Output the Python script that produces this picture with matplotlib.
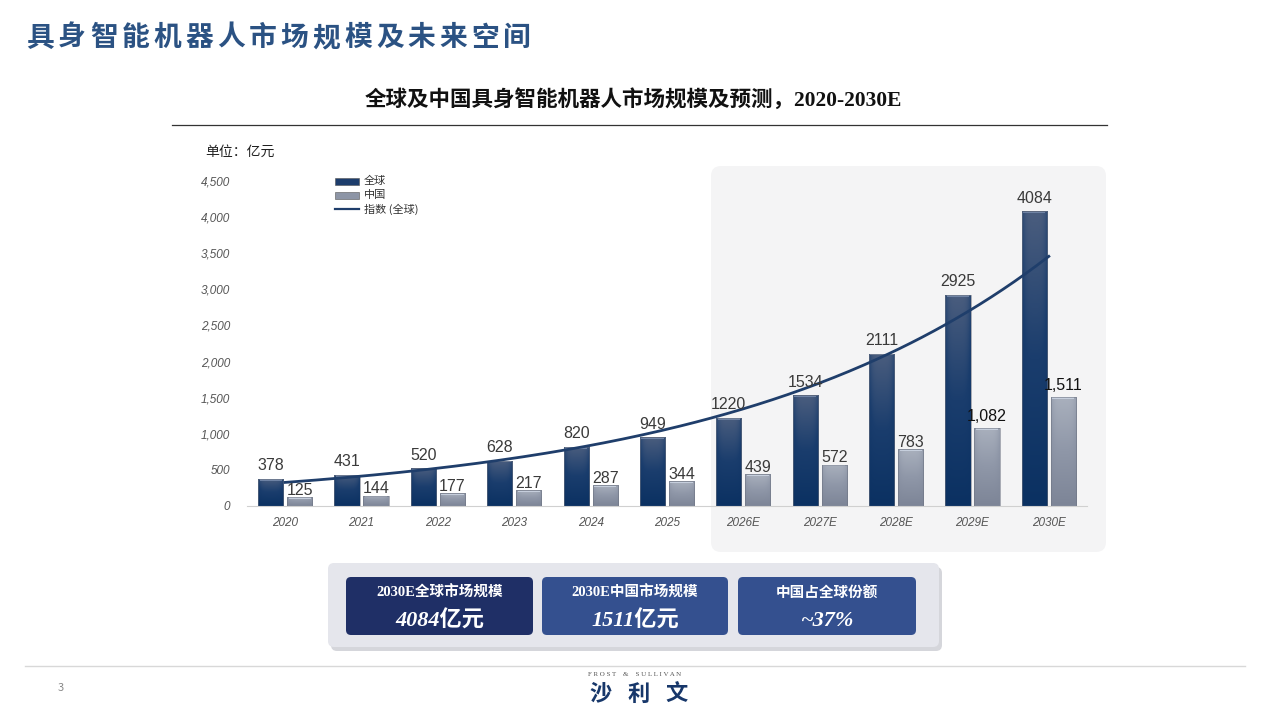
import matplotlib.pyplot as plt
import numpy as np
from matplotlib.patches import FancyBboxPatch, Rectangle
from matplotlib.colors import LinearSegmentedColormap

plt.rcParams['font.family'] = ['Noto Sans CJK SC', 'DejaVu Sans']

years = ["2020", "2021", "2022", "2023", "2024", "2025",
         "2026E", "2027E", "2028E", "2029E", "2030E"]
global_vals = [378, 431, 520, 628, 820, 949, 1220, 1534, 2111, 2925, 4084]
china_vals = [125, 144, 177, 217, 287, 344, 439, 572, 783, 1082, 1511]
yticks = [0, 500, 1000, 1500, 2000, 2500, 3000, 3500, 4000, 4500]
title = "具身智能机器人市场规模及未来空间"

W, H = 1269, 714
fig = plt.figure(figsize=(W / 100, H / 100), dpi=100)
fig.patch.set_facecolor("white")

# background layer in pixel coordinates
bg = fig.add_axes([0, 0, 1, 1], zorder=0)
bg.set_xlim(0, W)
bg.set_ylim(H, 0)
bg.axis("off")

# page title, spaced out character by character
for k, ch in enumerate(title):
    bg.text(40 + k * 31.8, 38, ch, fontsize=20, fontweight="bold",
            color="#2b5283", va="center", ha="center")
bg.text(633, 100, "全球及中国具身智能机器人市场规模及预测，2020-2030E", fontsize=15.5,
        fontweight="bold", color="#111111", va="center", ha="center",
        family=["Liberation Serif", "Noto Sans CJK SC"])
bg.plot([172, 1107], [125, 125], color="#333333", lw=0.9)
bg.text(205, 152, "单位：亿元", fontsize=10, color="#222222", va="center")

# shaded forecast panel
bg.add_patch(FancyBboxPatch((711, 166), 395, 386, boxstyle="round,pad=0,rounding_size=10",
                            fc="#f4f4f5", ec="none"))

# footer
bg.plot([25, 1245], [666, 666], color="#d8d8d8", lw=1)
bg.text(58, 688, "3", fontsize=8, color="#888888", va="center")
bg.text(635, 675, "F R O S T    &    S U L L I V A N", fontsize=5, color="#555555",
        ha="center", va="center", family=["Liberation Serif"])
for k, ch in enumerate("沙利文"):
    bg.text(601 + k * 38, 694, ch, fontsize=16, fontweight="bold", color="#17376a",
            ha="center", va="center")

# main chart
ax = fig.add_axes([247 / W, 1 - 506 / H, 840 / W, 325 / H], zorder=1)
ax.patch.set_alpha(0)
x = np.arange(len(years))
bw = 0.33
off = 0.19

gcmap = LinearSegmentedColormap.from_list("g", ["#0b3162", "#1a3d6d", "#4a5d7e"])
ccmap = LinearSegmentedColormap.from_list("c", ["#7d8597", "#8f97a8", "#a9b0bd"])


def gradient_bars(xs, vals, cmap, cap):
    bars = ax.bar(xs, vals, width=bw, color="none", edgecolor="none", zorder=2)
    vert = np.linspace(0, 1, 100)[:, None]
    horiz = 1 - 0.35 * (np.abs(np.linspace(-1, 1, 30)) ** 4)[None, :]
    img = vert * horiz
    for b in bars:
        bx, by = b.get_x(), b.get_y()
        w, h = b.get_width(), b.get_height()
        im = ax.imshow(img, cmap=cmap, extent=[bx, bx + w, by, by + h],
                       origin="lower", aspect="auto", zorder=2, vmin=0, vmax=1)
        im.set_clip_path(b)
        ax.add_patch(Rectangle((bx + w * 0.06, by + h - 25), w * 0.88, 18,
                               fc=cap, ec="none", alpha=0.8, zorder=3))
        ax.add_patch(Rectangle((bx, by), w, h, fc="none", ec="#6e7482", lw=0.4, zorder=3))
    return bars


gradient_bars(x - off, global_vals, gcmap, "#7b8fb0")
gradient_bars(x + off, china_vals, ccmap, "#cfd8e6")

# exponential trend line fitted to the global series
coef = np.polyfit(x, np.log(global_vals), 1)
xs = np.linspace(0, len(years) - 1, 200)
ax.plot(xs, np.exp(np.polyval(coef, xs)), color="#1f3e6b", lw=2, zorder=4)

for i, v in enumerate(global_vals):
    ax.text(x[i] - off, v + 75, str(v), ha="center", va="bottom", fontsize=11.5,
            color="#3a3a3a", family=["Liberation Sans"], zorder=5)
for i, v in enumerate(china_vals):
    col = "#111111" if v >= 1000 else "#3a3a3a"
    ax.text(x[i] + off, v + (60 if v >= 1000 else -10), f"{v:,}" if v >= 1000 else str(v),
            ha="center", va="bottom", fontsize=11.5, color=col,
            family=["Liberation Sans"], zorder=5)

ax.set_xlim(-0.5, len(years) - 0.5)
ax.set_ylim(0, 4500)
ax.set_yticks(yticks)
ax.set_yticklabels([f"{t:,}" for t in yticks], fontsize=8.5, color="#555555",
                   style="italic", family=["Liberation Sans"])
ax.set_xticks(x)
ax.set_xticklabels(years, fontsize=8.5, color="#555555", style="italic",
                   family=["Liberation Sans"])
ax.tick_params(length=0, pad=8)
ax.tick_params(axis="y", pad=12)
for s in ["top", "right", "left"]:
    ax.spines[s].set_visible(False)
ax.spines["bottom"].set_color("#d0d0d0")

# legend drawn by hand in the background layer
leg = [("全球", "#1d3d6c", "bar"), ("中国", "#8d95a6", "bar"), ("指数 (全球)", "#1f3e6b", "line")]
for k, (lab, col, kind) in enumerate(leg):
    yy = 181 + k * 14
    if kind == "bar":
        bg.add_patch(Rectangle((335, yy - 3.5), 24, 7, fc=col, ec="#555555", lw=0.4, zorder=6))
    else:
        bg.plot([335, 359], [yy, yy], color=col, lw=1.6, zorder=6)
    bg.text(364, yy, lab, fontsize=8, color="#333333", va="center", zorder=6)

# bottom summary boxes
ov = fig.add_axes([0, 0, 1, 1], zorder=2)
ov.set_xlim(0, W)
ov.set_ylim(H, 0)
ov.axis("off")
ov.add_patch(FancyBboxPatch((331, 567), 611, 84, boxstyle="round,pad=0,rounding_size=6",
                            fc="#b9bbc3", ec="none", alpha=0.6))
ov.add_patch(FancyBboxPatch((328, 563), 611, 84, boxstyle="round,pad=0,rounding_size=6",
                            fc="#e5e6ec", ec="none"))
boxes = [(346, 533, "#1f2f66", "2030E全球市场规模", "4084亿元"),
         (542, 728, "#34508f", "2030E中国市场规模", "1511亿元"),
         (738, 916, "#34508f", "中国占全球份额", "~37%")]
for x0, x1, col, t1, t2 in boxes:
    ov.add_patch(FancyBboxPatch((x0, 577), x1 - x0, 58, boxstyle="round,pad=0,rounding_size=5",
                                fc=col, ec="none"))
    cx = (x0 + x1) / 2
    ov.text(cx, 593, t1, fontsize=10.5, fontweight="bold", color="white", ha="center",
            va="center", family=["Liberation Serif", "Noto Sans CJK SC"])
    ov.text(cx, 621, t2, fontsize=16, fontweight="bold", style="italic", color="white",
            ha="center", va="center", family=["Liberation Serif", "Noto Sans CJK SC"])

fig.savefig("out.png", dpi=100)
